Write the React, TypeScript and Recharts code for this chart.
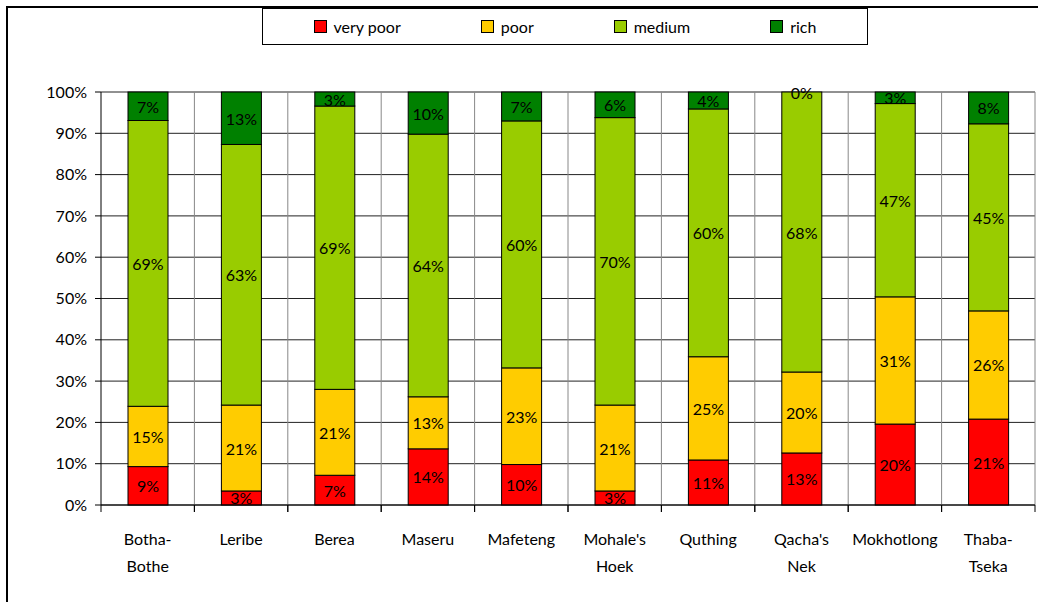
import React from "react";
import {
  BarChart,
  Bar,
  XAxis,
  YAxis,
  CartesianGrid,
  Legend,
} from "recharts";

// districts (x axis)
const districts = [
  "Botha-Bothe",
  "Leribe",
  "Berea",
  "Maseru",
  "Mafeteng",
  "Mohale's Hoek",
  "Quthing",
  "Qacha's Nek",
  "Mokhotlong",
  "Thaba-Tseka",
];

// share of households per wealth group, %
const veryPoor = [9.3, 3.4, 7.2, 13.6, 9.8, 3.4, 10.9, 12.6, 19.6, 20.8];
const poor = [14.6, 20.8, 20.8, 12.6, 23.4, 20.8, 25.0, 19.6, 30.8, 26.2];
const medium = [69.2, 63.1, 68.6, 63.6, 59.8, 69.6, 60.0, 67.8, 46.8, 45.3];
const rich = [6.9, 12.7, 3.4, 10.2, 7.0, 6.2, 4.1, 0, 2.8, 7.7];

const yTicks = [0, 10, 20, 30, 40, 50, 60, 70, 80, 90, 100];

const series = [
  { key: "veryPoor", name: "very poor", color: "#FF0000" },
  { key: "poor", name: "poor", color: "#FFCC00" },
  { key: "medium", name: "medium", color: "#99CC00" },
  { key: "rich", name: "rich", color: "#008000" },
];

const data = districts.map((d, i) => ({
  district: d,
  veryPoor: veryPoor[i],
  poor: poor[i],
  medium: medium[i],
  rich: rich[i],
}));

const FONT = "Lato, 'Open Sans', sans-serif";

const pct = (v: any) => `${Math.round(Number(v))}%`;

// bar segment with its value written in the middle (also for 0-height segments)
function Segment(props: any) {
  const { x, y, width, height, fill, payload, k } = props;
  const h = Math.max(0, height || 0);
  return (
    <g>
      {h > 0 && (
        <rect x={x} y={y} width={width} height={h} fill={fill} stroke="#000" strokeWidth={1} />
      )}
      <text
        x={x + width / 2}
        y={y + h / 2}
        textAnchor="middle"
        dominantBaseline="central"
        fontSize={16}
        fontFamily={FONT}
        fill="#000"
      >
        {pct(payload[k])}
      </text>
    </g>
  );
}

function DistrictTick(props: any) {
  const { x, y, payload } = props;
  const half = payload && payload.offset ? payload.offset : 46.7;
  const lines = String(payload.value)
    .replace("-", "-\n")
    .replace(" ", "\n")
    .split("\n");
  const axisY = y - 8;
  return (
    <g>
      <line x1={x - half} x2={x - half} y1={axisY} y2={axisY + 7} stroke="#000" />
      <line x1={x + half} x2={x + half} y1={axisY} y2={axisY + 7} stroke="#000" />
      {lines.map((l, i) => (
        <text
          key={i}
          x={x}
          y={axisY + 40 + i * 27}
          textAnchor="middle"
          fontSize={16}
          fontFamily={FONT}
          fill="#000"
        >
          {l}
        </text>
      ))}
    </g>
  );
}

function LegendBox() {
  return (
    <div
      style={{
        width: 604,
        height: 35,
        border: "1px solid #000",
        background: "#fff",
        display: "flex",
        alignItems: "center",
        justifyContent: "center",
        gap: 80,
        fontFamily: FONT,
        fontSize: 16,
        color: "#000",
      }}
    >
      {series.map((s) => (
        <div key={s.key} style={{ display: "flex", alignItems: "center" }}>
          <span
            style={{
              width: 11,
              height: 11,
              background: s.color,
              border: "1px solid #000",
              marginRight: 7,
              display: "inline-block",
            }}
          />
          {s.name}
        </div>
      ))}
    </div>
  );
}

export default function App() {
  return (
    <div
      style={{
        position: "absolute",
        left: 6,
        top: 6,
        width: 1032,
        height: 596,
        borderTop: "2px solid #000",
        borderLeft: "2px solid #000",
        background: "#fff",
        overflow: "hidden",
      }}
    >
      <BarChart
        width={1030}
        height={594}
        data={data}
        margin={{ top: 47, right: 3, bottom: 17, left: 0 }}
        barSize={40}
      >
        <CartesianGrid horizontal={true} vertical={false} stroke="#222" />
        <CartesianGrid
          horizontal={false}
          vertical={true}
          stroke="#888"
          verticalCoordinatesGenerator={({ offset }: any) =>
            districts.map((_, i) => offset.left + ((i + 1) * offset.width) / districts.length)
          }
        />
        <XAxis
          dataKey="district"
          interval={0}
          height={80}
          axisLine={{ stroke: "#000" }}
          tickLine={false}
          tick={<DistrictTick />}
        />
        <YAxis
          domain={[0, 100]}
          ticks={yTicks}
          width={93}
          tickFormatter={(v) => `${v}%`}
          axisLine={{ stroke: "#000" }}
          tickLine={{ stroke: "#000" }}
          tickSize={6}
          tickMargin={8}
          tick={{ fill: "#000", fontSize: 16, fontFamily: FONT }}
        />
        <Legend
          verticalAlign="top"
          align="left"
          content={<LegendBox />}
          wrapperStyle={{ top: 0, left: 254, width: 606 }}
        />
        {series.map((s) => (
          <Bar
            key={s.key}
            dataKey={s.key}
            name={s.name}
            stackId="a"
            fill={s.color}
            stroke="#000"
            strokeWidth={1}
            isAnimationActive={false}
            shape={(p: any) => <Segment {...p} k={s.key} />}
          />
        ))}
      </BarChart>
    </div>
  );
}
